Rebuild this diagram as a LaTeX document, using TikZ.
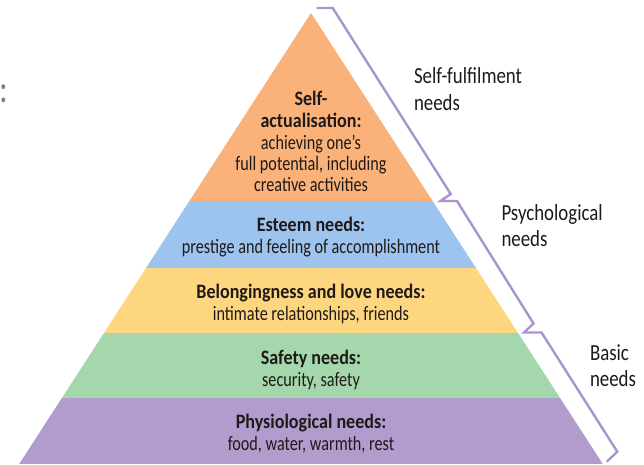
\documentclass[tikz,border=0pt]{standalone}
\usepackage{fontspec}
\setmainfont{Carlito}[FakeStretch=0.79]
\newfontfamily\pyrboldfont{Carlito}[FakeStretch=0.88]
\newfontfamily\sidefont{Carlito}[FakeStretch=0.82]
\definecolor{orangeband}{HTML}{FBB27A}
\definecolor{blueband}{HTML}{9DC4EE}
\definecolor{yellowband}{HTML}{FED680}
\definecolor{greenband}{HTML}{A5D7AD}
\definecolor{purpleband}{HTML}{B29BCD}
\definecolor{bracketcol}{HTML}{A993D0}
\definecolor{ink}{HTML}{1F1A17}
\begin{document}
\begin{tikzpicture}[x=1pt,y=-1pt,
  inner sep=0pt, outer sep=0pt,
  pyr/.style={anchor=base, text=ink, font=\fontsize{20.5}{21.5}\selectfont},
  pyrb/.style={anchor=base, text=ink, font=\pyrboldfont\fontsize{20.5}{21.5}\selectfont\bfseries},
  side/.style={anchor=base west, text=ink, font=\sidefont\fontsize{23}{27}\selectfont},
  bracketline/.style={draw=bracketcol, line width=2.4pt, line join=miter}]
\useasboundingbox (0,0) rectangle (644,464);
% pyramid bands
\begin{scope}
  \clip (311,13) -- (19.2,464) -- (602.8,464) -- cycle;
  \fill[orangeband] (0,0) rectangle (644,200.5);
  \fill[blueband] (0,200.5) rectangle (644,267.5);
  \fill[yellowband] (0,267.5) rectangle (644,333.3);
  \fill[greenband] (0,333.3) rectangle (644,398.3);
  \fill[purpleband] (0,398.3) rectangle (644,464);
\end{scope}
% bracket
\draw[bracketline] (316.7,8) -- (332.7,8) -- (450.7,194) -- (440.5,201)
  -- (457,201) -- (533.5,323.5) -- (524,332.5) -- (541.5,332.5)
  -- (617.3,451.7) -- (606.7,461.7);
% stray colon at left edge
\node[anchor=base, text=gray, font=\sidefont\fontsize{40}{40}\selectfont] (colon) at (4,102) {:};
% self-actualisation
\node[pyrb] (sa1) at (311,105) {Self-};
\node[pyrb] (sa2) at (311,127.3) {actualisation:};
\node[pyr] (sa3) at (311,149) {achieving one’s};
\node[pyr] (sa4) at (311,170.7) {full potential, including};
\node[pyr] (sa5) at (311,191.7) {creative activities};
% esteem
\node[pyrb] (es1) at (311,231.7) {Esteem needs:};
\node[pyr] (es2) at (311,253.3) {prestige and feeling of accomplishment};
% belonging
\node[pyrb] (bl1) at (311,298.3) {Belongingness and love needs:};
\node[pyr] (bl2) at (311,320) {intimate relationships, friends};
% safety
\node[pyrb] (sf1) at (311,364.3) {Safety needs:};
\node[pyr] (sf2) at (311,386) {security, safety};
% physiological
\node[pyrb] (ph1) at (311,428.3) {Physiological needs:};
\node[pyr] (ph2) at (311,450) {food, water, warmth, rest};
% side labels
\node[side] (sfa) at (414,83.3) {Self-fulfilment};
\node[side] (sfb) at (414,110) {needs};
\node[side] (psa) at (501.5,220) {Psychological};
\node[side] (psb) at (501.5,246.7) {needs};
\node[side] (baa) at (590,360) {Basic};
\node[side] (bab) at (590,386.7) {needs};
\end{tikzpicture}
\end{document}
